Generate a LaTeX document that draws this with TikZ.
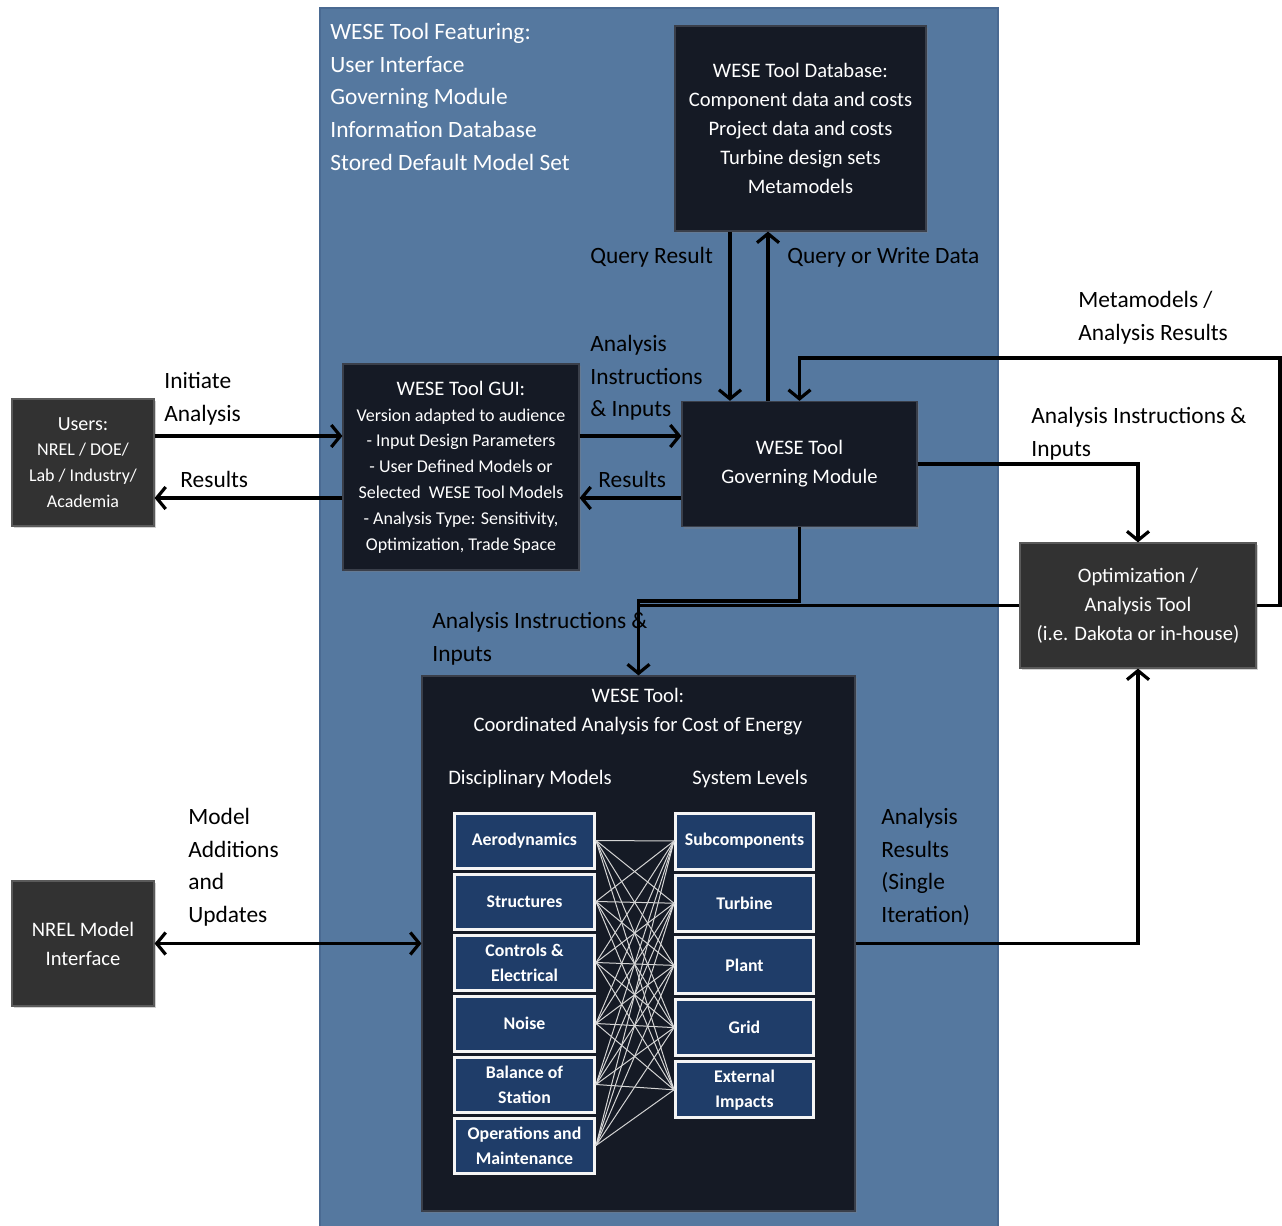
\documentclass[tikz,border=0pt]{standalone}
\usepackage{fontspec}
\setmainfont{Carlito}
\usetikzlibrary{arrows.meta,shadows}
\definecolor{panel}{HTML}{55789F}
\definecolor{paneledge}{HTML}{4A6A92}
\definecolor{navy}{HTML}{151A25}
\definecolor{navyedge}{HTML}{3A3F4A}
\definecolor{graybox}{HTML}{323232}
\definecolor{grayedge}{HTML}{5A5A5A}
\definecolor{modelblue}{HTML}{1F3D69}
\definecolor{webline}{HTML}{D4D4D4}
\newcommand\lblfont{\fontsize{11.7}{16.3}\selectfont}
\newcommand\boxfont{\fontsize{10.3}{14.5}\selectfont}
\newcommand\guifont{\fontsize{9}{12.9}\selectfont}
\newcommand\modfont{\fontsize{8.9}{12.5}\selectfont\bfseries}
\begin{document}
\begin{tikzpicture}[x=0.5pt,y=-0.5pt,
  shade/.style={drop shadow={shadow xshift=1.2pt,shadow yshift=-1.2pt,opacity=0.35}},
  darkbox/.style={rectangle,inner sep=0pt,align=center,text=white,fill=navy,draw=navyedge,line width=0.6pt,shade},
  greybox/.style={rectangle,inner sep=0pt,align=center,text=white,fill=graybox,draw=grayedge,line width=0.6pt,shade},
  mbox/.style={rectangle,inner sep=0pt,align=center,text=white,fill=modelblue,draw=white!92!gray,line width=1.5pt,font=\modfont},
  lbl/.style={inner sep=0pt,align=left,font=\lblfont,text=black},
  conn/.style={line width=1.6pt,draw=black},
  arr/.style={conn,-{Straight Barb[length=4.5pt,width=11pt]}},
  dblarr/.style={conn,{Straight Barb[length=4.5pt,width=11pt]}-{Straight Barb[length=4.5pt,width=11pt]}},
  web/.style={draw=webline,line width=0.5pt}
]
\useasboundingbox (0,0) rectangle (1282,1226);
\fill[white] (0,0) rectangle (1282,1226);

% tool panel
\fill[panel] (320,8) rectangle (998,1226);
\draw[paneledge,line width=0.8pt] (320,1226) -- (320,8) -- (998,8) -- (998,1226);

% feature list
\node[lbl,text=white,anchor=north west] (feat) at (330,23)
  {WESE Tool Featuring:\\User Interface\\Governing Module\\Information Database\\Stored Default Model Set};

% main boxes
\node[darkbox,minimum width=125.5pt,minimum height=102.5pt,font=\boxfont] (DB) at (800.5,128.5)
  {WESE Tool Database:\\Component data and costs\\Project data and costs\\Turbine design sets\\Metamodels};
\node[greybox,minimum width=71pt,minimum height=63.5pt,font=\guifont] (Users) at (83,462.5)
  {{\fontsize{10}{12.9}\selectfont Users:}\\NREL / DOE/\\Lab / Industry/\\Academia};
\node[darkbox,minimum width=118pt,minimum height=103pt,font=\guifont] (GUI) at (461,467)
  {{\fontsize{10.3}{12.9}\selectfont WESE Tool GUI:}\\Version adapted to audience\\- Input Design Parameters\\- User Defined Models or\\Selected\ \ WESE Tool Models\\- Analysis Type: Sensitivity,\\Optimization, Trade Space};
\node[darkbox,minimum width=117.5pt,minimum height=62.5pt,font=\boxfont] (Gov) at (799.5,464)
  {WESE Tool\\Governing Module};
\node[greybox,minimum width=118pt,minimum height=62.5pt,font=\boxfont] (Opt) at (1138,605.5)
  {Optimization /\\Analysis Tool\\(i.e. Dakota or in-house)};
\node[greybox,minimum width=71pt,minimum height=62.5pt,font=\boxfont] (NREL) at (83,943.5)
  {NREL Model\\Interface};
\node[darkbox,minimum width=216.5pt,minimum height=267.5pt] (CoA) at (638.5,943.5) {};

% contents of the coordinated analysis box
\node[inner sep=0pt,align=center,text=white,font=\boxfont,anchor=north] (CoAtitle) at (638,688)
  {WESE Tool:\\Coordinated Analysis for Cost of Energy};
\node[inner sep=0pt,text=white,font=\boxfont] (disc) at (530,779) {Disciplinary Models};
\node[inner sep=0pt,text=white,font=\boxfont] (sys) at (750,779) {System Levels};

\node[mbox,minimum width=70pt,minimum height=27.5pt] (L1) at (524.5,840.5) {Aerodynamics};
\node[mbox,minimum width=70pt,minimum height=27.5pt] (L2) at (524.5,901.5) {Structures};
\node[mbox,minimum width=70pt,minimum height=27.5pt] (L3) at (524.5,962.5) {Controls \&\\Electrical};
\node[mbox,minimum width=70pt,minimum height=27.5pt] (L4) at (524.5,1023.5) {Noise};
\node[mbox,minimum width=70pt,minimum height=27.5pt] (L5) at (524.5,1084.5) {Balance of\\Station};
\node[mbox,minimum width=70pt,minimum height=27.5pt] (L6) at (524.5,1145.5) {Operations and\\Maintenance};

\node[mbox,minimum width=69pt,minimum height=28pt] (R1) at (744.5,841) {Subcomponents};
\node[mbox,minimum width=69pt,minimum height=28pt] (R2) at (744.5,903.2) {Turbine};
\node[mbox,minimum width=69pt,minimum height=28pt] (R3) at (744.5,965.4) {Plant};
\node[mbox,minimum width=69pt,minimum height=28pt] (R4) at (744.5,1027.6) {Grid};
\node[mbox,minimum width=69pt,minimum height=28pt] (R5) at (744.5,1089.8) {External\\Impacts};

% every discipline linked to every system level
\foreach \l in {1,...,6}
  \foreach \r in {1,...,5}
    \draw[web] (L\l.east) -- (R\r.west);

% connector levels
\coordinate (lvlA) at (0,436);
\coordinate (lvlB) at (0,498);
\coordinate (qx1) at (730,0);
\coordinate (qx2) at (768,0);
\coordinate (mmR) at (1280,358);
\coordinate (jn) at (0,601);

% connectors
\draw[arr] (Users.east |- lvlA) -- (GUI.west |- lvlA);
\draw[arr] (GUI.west |- lvlB) -- (Users.east |- lvlB);
\draw[arr] (GUI.east |- lvlA) -- (Gov.west |- lvlA);
\draw[arr] (Gov.west |- lvlB) -- (GUI.east |- lvlB);
\draw[arr] (DB.south -| qx1) -- (Gov.north -| qx1);
\draw[arr] (Gov.north -| qx2) -- (DB.south -| qx2);
\draw[arr] (Opt.east) -| (mmR) -| (Gov.north);
\draw[arr] (Gov.east) -| (Opt.north);
\draw[arr] (Gov.south) |- (CoA.north |- jn) -- (CoA.north);
\draw[conn] (Opt.west) -- (CoA.north |- Opt.west);
\draw[arr] (CoA.east) -| (Opt.south);
\draw[dblarr] (NREL.east) -- (CoA.west);

% connector labels
\node[lbl,anchor=north west] (tInit) at (164,372) {Initiate\\Analysis};
\node[lbl,anchor=west] (tRes1) at (180,479) {Results};
\node[lbl,anchor=north west] (tAI1) at (590,335) {Analysis\\Instructions\\\& Inputs};
\node[lbl,anchor=west] (tRes2) at (598,479) {Results};
\node[lbl,anchor=west] (tQR) at (590,257) {Query Result};
\node[lbl,anchor=west] (tQW) at (787,257) {Query or Write Data};
\node[lbl,anchor=north west] (tMeta) at (1078,291) {Metamodels /\\Analysis Results};
\node[lbl,anchor=north west] (tAI2) at (1031,407) {Analysis Instructions \&\\Inputs};
\node[lbl,anchor=north west] (tAI3) at (432,612) {Analysis Instructions \&\\Inputs};
\node[lbl,anchor=north west] (tMod) at (188,808) {Model\\Additions\\and\\Updates};
\node[lbl,anchor=north west] (tAR) at (881,808) {Analysis\\Results\\(Single\\Iteration)};
\end{tikzpicture}
\end{document}
